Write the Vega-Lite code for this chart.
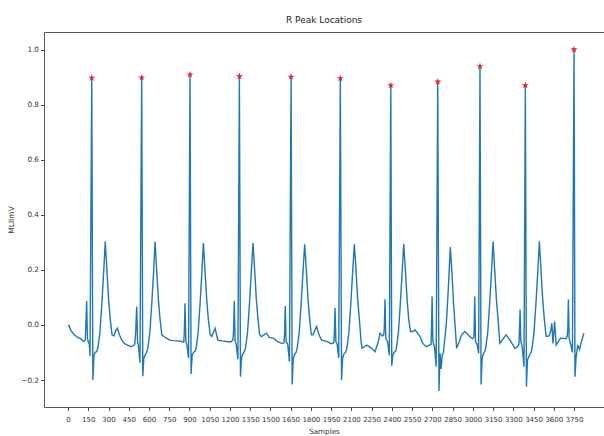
{
  "$schema": "https://vega.github.io/schema/vega-lite/v6.json",
  "width": 560,
  "height": 375,
  "autosize": {"type": "none"},
  "padding": {"left": 44, "top": 32, "right": 0, "bottom": 29},
  "background": "white",
  "title": {"text": "R Peak Locations", "font": "DejaVu Sans", "fontSize": 9, "fontWeight": "normal", "color": "#222", "offset": 7},
  "config": {
    "view": {"stroke": "#555", "strokeWidth": 1},
    "axis": {"labelFont": "DejaVu Sans", "titleFont": "DejaVu Sans", "titleFontWeight": "normal", "labelColor": "#333", "titleColor": "#333", "tickColor": "#444", "domain": false, "grid": false, "tickSize": 3.5}
  },
  "datasets": {
    "ecg": [
      {"sample":0,"mv":-0.005},{"sample":8,"mv":-0.002},{"sample":20,"mv":-0.02},{"sample":45,"mv":-0.035},{"sample":70,"mv":-0.045},{"sample":95,"mv":-0.05},{"sample":115,"mv":-0.06},{"sample":128,"mv":-0.055},
      {"sample":132,"mv":0.0},{"sample":138,"mv":0.087},{"sample":144,"mv":-0.05},{"sample":150,"mv":-0.06},{"sample":158,"mv":-0.07},{"sample":163,"mv":-0.113},{"sample":176,"mv":0.897},{"sample":184,"mv":-0.2},{"sample":192,"mv":-0.11},{"sample":200,"mv":-0.1},{"sample":212,"mv":-0.097},
      {"sample":221,"mv":-0.085},{"sample":236,"mv":-0.03},{"sample":251,"mv":0.08},{"sample":264,"mv":0.19},{"sample":276,"mv":0.303},{"sample":288,"mv":0.2},{"sample":301,"mv":0.09},{"sample":313,"mv":0.02},{"sample":326,"mv":-0.035},
      {"sample":340,"mv":-0.04},{"sample":355,"mv":-0.02},{"sample":366,"mv":-0.012},{"sample":380,"mv":-0.035},{"sample":398,"mv":-0.055},{"sample":420,"mv":-0.068},{"sample":440,"mv":-0.073},{"sample":465,"mv":-0.078},{"sample":484,"mv":-0.076},{"sample":495,"mv":-0.07},
      {"sample":502,"mv":-0.02},{"sample":509,"mv":0.067},{"sample":515,"mv":-0.06},{"sample":522,"mv":-0.075},{"sample":533,"mv":-0.137},{"sample":546,"mv":0.898},{"sample":554,"mv":-0.186},{"sample":562,"mv":-0.12},{"sample":571,"mv":-0.11},{"sample":582,"mv":-0.1},
      {"sample":591,"mv":-0.085},{"sample":606,"mv":-0.03},{"sample":621,"mv":0.08},{"sample":634,"mv":0.19},{"sample":645,"mv":0.303},{"sample":657,"mv":0.2},{"sample":670,"mv":0.09},{"sample":682,"mv":0.02},{"sample":695,"mv":-0.035},
      {"sample":710,"mv":-0.042},{"sample":730,"mv":-0.048},{"sample":755,"mv":-0.055},{"sample":780,"mv":-0.057},{"sample":810,"mv":-0.058},{"sample":840,"mv":-0.06},{"sample":858,"mv":-0.062},
      {"sample":862,"mv":-0.02},{"sample":867,"mv":0.079},{"sample":873,"mv":-0.06},{"sample":880,"mv":-0.07},{"sample":893,"mv":-0.12},{"sample":904,"mv":0.909},{"sample":912,"mv":-0.178},{"sample":920,"mv":-0.11},{"sample":930,"mv":-0.1},{"sample":942,"mv":-0.095},
      {"sample":949,"mv":-0.085},{"sample":964,"mv":-0.03},{"sample":979,"mv":0.08},{"sample":992,"mv":0.19},{"sample":1003,"mv":0.297},{"sample":1015,"mv":0.2},{"sample":1028,"mv":0.09},{"sample":1040,"mv":0.02},{"sample":1053,"mv":-0.035},
      {"sample":1065,"mv":-0.042},{"sample":1090,"mv":-0.012},{"sample":1110,"mv":-0.055},{"sample":1140,"mv":-0.058},{"sample":1175,"mv":-0.06},{"sample":1205,"mv":-0.062},{"sample":1222,"mv":-0.055},
      {"sample":1227,"mv":-0.02},{"sample":1232,"mv":0.087},{"sample":1238,"mv":-0.06},{"sample":1246,"mv":-0.07},{"sample":1259,"mv":-0.125},{"sample":1270,"mv":0.903},{"sample":1278,"mv":-0.188},{"sample":1286,"mv":-0.12},{"sample":1295,"mv":-0.105},{"sample":1308,"mv":-0.095},
      {"sample":1315,"mv":-0.085},{"sample":1330,"mv":-0.03},{"sample":1345,"mv":0.08},{"sample":1358,"mv":0.19},{"sample":1371,"mv":0.297},{"sample":1383,"mv":0.2},{"sample":1396,"mv":0.09},{"sample":1408,"mv":0.02},{"sample":1420,"mv":-0.035},
      {"sample":1432,"mv":-0.042},{"sample":1472,"mv":-0.03},{"sample":1490,"mv":-0.045},{"sample":1522,"mv":-0.048},{"sample":1550,"mv":-0.06},{"sample":1583,"mv":-0.067},{"sample":1600,"mv":-0.065},
      {"sample":1605,"mv":-0.03},{"sample":1610,"mv":0.069},{"sample":1616,"mv":-0.06},{"sample":1628,"mv":-0.07},{"sample":1641,"mv":-0.133},{"sample":1653,"mv":0.901},{"sample":1661,"mv":-0.216},{"sample":1669,"mv":-0.12},{"sample":1678,"mv":-0.109},{"sample":1690,"mv":-0.1},
      {"sample":1698,"mv":-0.085},{"sample":1713,"mv":-0.03},{"sample":1728,"mv":0.08},{"sample":1741,"mv":0.19},{"sample":1754,"mv":0.293},{"sample":1766,"mv":0.2},{"sample":1779,"mv":0.09},{"sample":1791,"mv":0.02},{"sample":1803,"mv":-0.036},
      {"sample":1815,"mv":-0.036},{"sample":1842,"mv":-0.006},{"sample":1860,"mv":-0.036},{"sample":1880,"mv":-0.055},{"sample":1915,"mv":-0.06},{"sample":1950,"mv":-0.068},{"sample":1970,"mv":-0.065},
      {"sample":1974,"mv":-0.03},{"sample":1979,"mv":0.061},{"sample":1985,"mv":-0.06},{"sample":1994,"mv":-0.07},{"sample":2006,"mv":-0.12},{"sample":2018,"mv":0.895},{"sample":2027,"mv":-0.2},{"sample":2035,"mv":-0.12},{"sample":2045,"mv":-0.105},{"sample":2057,"mv":-0.1},
      {"sample":2066,"mv":-0.085},{"sample":2081,"mv":-0.03},{"sample":2096,"mv":0.08},{"sample":2109,"mv":0.19},{"sample":2122,"mv":0.293},{"sample":2134,"mv":0.2},{"sample":2147,"mv":0.09},{"sample":2159,"mv":0.02},{"sample":2172,"mv":-0.06},
      {"sample":2180,"mv":-0.085},{"sample":2214,"mv":-0.073},{"sample":2250,"mv":-0.085},{"sample":2275,"mv":-0.097},{"sample":2300,"mv":-0.06},{"sample":2312,"mv":-0.03},{"sample":2330,"mv":-0.04},{"sample":2340,"mv":-0.035},
      {"sample":2344,"mv":-0.01},{"sample":2349,"mv":0.093},{"sample":2355,"mv":-0.05},{"sample":2368,"mv":-0.06},{"sample":2381,"mv":-0.11},{"sample":2392,"mv":0.87},{"sample":2399,"mv":-0.149},{"sample":2407,"mv":-0.11},{"sample":2416,"mv":-0.1},{"sample":2428,"mv":-0.095},
      {"sample":2433,"mv":-0.085},{"sample":2448,"mv":-0.03},{"sample":2463,"mv":0.08},{"sample":2476,"mv":0.19},{"sample":2488,"mv":0.295},{"sample":2500,"mv":0.2},{"sample":2513,"mv":0.09},{"sample":2525,"mv":0.02},{"sample":2538,"mv":-0.024},
      {"sample":2555,"mv":-0.024},{"sample":2572,"mv":-0.018},{"sample":2609,"mv":-0.042},{"sample":2629,"mv":-0.067},{"sample":2654,"mv":-0.079},{"sample":2678,"mv":-0.073},{"sample":2690,"mv":-0.07},
      {"sample":2693,"mv":-0.03},{"sample":2698,"mv":0.103},{"sample":2704,"mv":-0.06},{"sample":2716,"mv":-0.08},{"sample":2728,"mv":-0.152},{"sample":2740,"mv":0.883},{"sample":2749,"mv":-0.24},{"sample":2757,"mv":-0.103},{"sample":2765,"mv":-0.16},{"sample":2773,"mv":-0.11},{"sample":2782,"mv":-0.1},
      {"sample":2790,"mv":-0.06},{"sample":2803,"mv":0.0},{"sample":2815,"mv":0.1},{"sample":2825,"mv":0.2},{"sample":2833,"mv":0.283},{"sample":2845,"mv":0.19},{"sample":2857,"mv":0.08},{"sample":2868,"mv":0.0},{"sample":2880,"mv":-0.085},
      {"sample":2900,"mv":-0.06},{"sample":2917,"mv":-0.036},{"sample":2941,"mv":-0.024},{"sample":2978,"mv":-0.042},{"sample":2998,"mv":-0.05},{"sample":3006,"mv":-0.045},
      {"sample":3009,"mv":-0.03},{"sample":3014,"mv":0.103},{"sample":3020,"mv":-0.06},{"sample":3032,"mv":-0.07},{"sample":3043,"mv":-0.103},{"sample":3053,"mv":0.939},{"sample":3061,"mv":-0.216},{"sample":3069,"mv":-0.12},{"sample":3078,"mv":-0.105},{"sample":3090,"mv":-0.095},
      {"sample":3095,"mv":-0.085},{"sample":3110,"mv":-0.03},{"sample":3125,"mv":0.08},{"sample":3138,"mv":0.19},{"sample":3150,"mv":0.303},{"sample":3162,"mv":0.2},{"sample":3175,"mv":0.09},{"sample":3187,"mv":0.02},{"sample":3200,"mv":-0.067},
      {"sample":3225,"mv":-0.05},{"sample":3246,"mv":-0.036},{"sample":3275,"mv":-0.055},{"sample":3312,"mv":-0.085},{"sample":3330,"mv":-0.08},{"sample":3342,"mv":-0.07},
      {"sample":3345,"mv":-0.03},{"sample":3350,"mv":0.056},{"sample":3356,"mv":-0.06},{"sample":3366,"mv":-0.08},{"sample":3379,"mv":-0.152},{"sample":3389,"mv":0.87},{"sample":3397,"mv":-0.224},{"sample":3405,"mv":-0.127},{"sample":3420,"mv":-0.11},{"sample":3432,"mv":-0.1},
      {"sample":3438,"mv":-0.085},{"sample":3453,"mv":-0.03},{"sample":3468,"mv":0.08},{"sample":3481,"mv":0.19},{"sample":3493,"mv":0.304},{"sample":3505,"mv":0.2},{"sample":3518,"mv":0.09},{"sample":3530,"mv":0.02},{"sample":3543,"mv":-0.042},
      {"sample":3565,"mv":-0.04},{"sample":3578,"mv":-0.02},{"sample":3585,"mv":0.006},{"sample":3594,"mv":-0.067},{"sample":3606,"mv":0.012},{"sample":3618,"mv":-0.073},{"sample":3650,"mv":-0.048},{"sample":3690,"mv":-0.05},{"sample":3700,"mv":-0.04},
      {"sample":3704,"mv":-0.01},{"sample":3708,"mv":0.092},{"sample":3714,"mv":-0.05},{"sample":3725,"mv":-0.07},{"sample":3738,"mv":-0.1},{"sample":3750,"mv":1.0},{"sample":3757,"mv":-0.188},{"sample":3765,"mv":-0.12},{"sample":3777,"mv":-0.073},{"sample":3790,"mv":-0.09},{"sample":3805,"mv":-0.06},{"sample":3823,"mv":-0.03}
    ],
    "peaks": [
      {"sample":176,"mv":0.897},{"sample":546,"mv":0.898},{"sample":904,"mv":0.909},{"sample":1270,"mv":0.903},{"sample":1653,"mv":0.901},{"sample":2018,"mv":0.895},{"sample":2392,"mv":0.87},{"sample":2740,"mv":0.883},{"sample":3053,"mv":0.939},{"sample":3389,"mv":0.87},{"sample":3750,"mv":1.0}
    ]
  },
  "encoding": {
    "x": {"field": "sample", "type": "quantitative",
      "scale": {"domain": [-178, 3972], "nice": false, "zero": false},
      "axis": {"values": [0,150,300,450,600,750,900,1050,1200,1350,1500,1650,1800,1950,2100,2250,2400,2550,2700,2850,3000,3150,3300,3450,3600,3750], "format": "d", "labelFontSize": 7, "labelPadding": 5, "title": "Samples", "titleFontSize": 7.2, "titlePadding": 5, "labelFlush": false, "labelOverlap": false}},
    "y": {"field": "mv", "type": "quantitative",
      "scale": {"domain": [-0.298, 1.0636], "nice": false, "zero": false},
      "axis": {"values": [-0.2, 0, 0.2, 0.4, 0.6, 0.8, 1.0], "format": ".1f", "labelFontSize": 7.3, "labelPadding": 2, "title": "MLIImV", "titleFontSize": 7.5, "titlePadding": 5}}
  },
  "layer": [
    {"data": {"name": "ecg"}, "mark": {"type": "line", "color": "#1f77b4", "strokeWidth": 1.4, "clip": true}},
    {"data": {"name": "peaks"}, "mark": {"type": "point", "filled": true, "color": "#e0243c", "opacity": 1, "size": 55, "shape": "M0,-1L0.2245,-0.309L0.951,-0.309L0.3633,0.118L0.5878,0.809L0,0.382L-0.5878,0.809L-0.3633,0.118L-0.951,-0.309L-0.2245,-0.309Z"}}
  ]
}
